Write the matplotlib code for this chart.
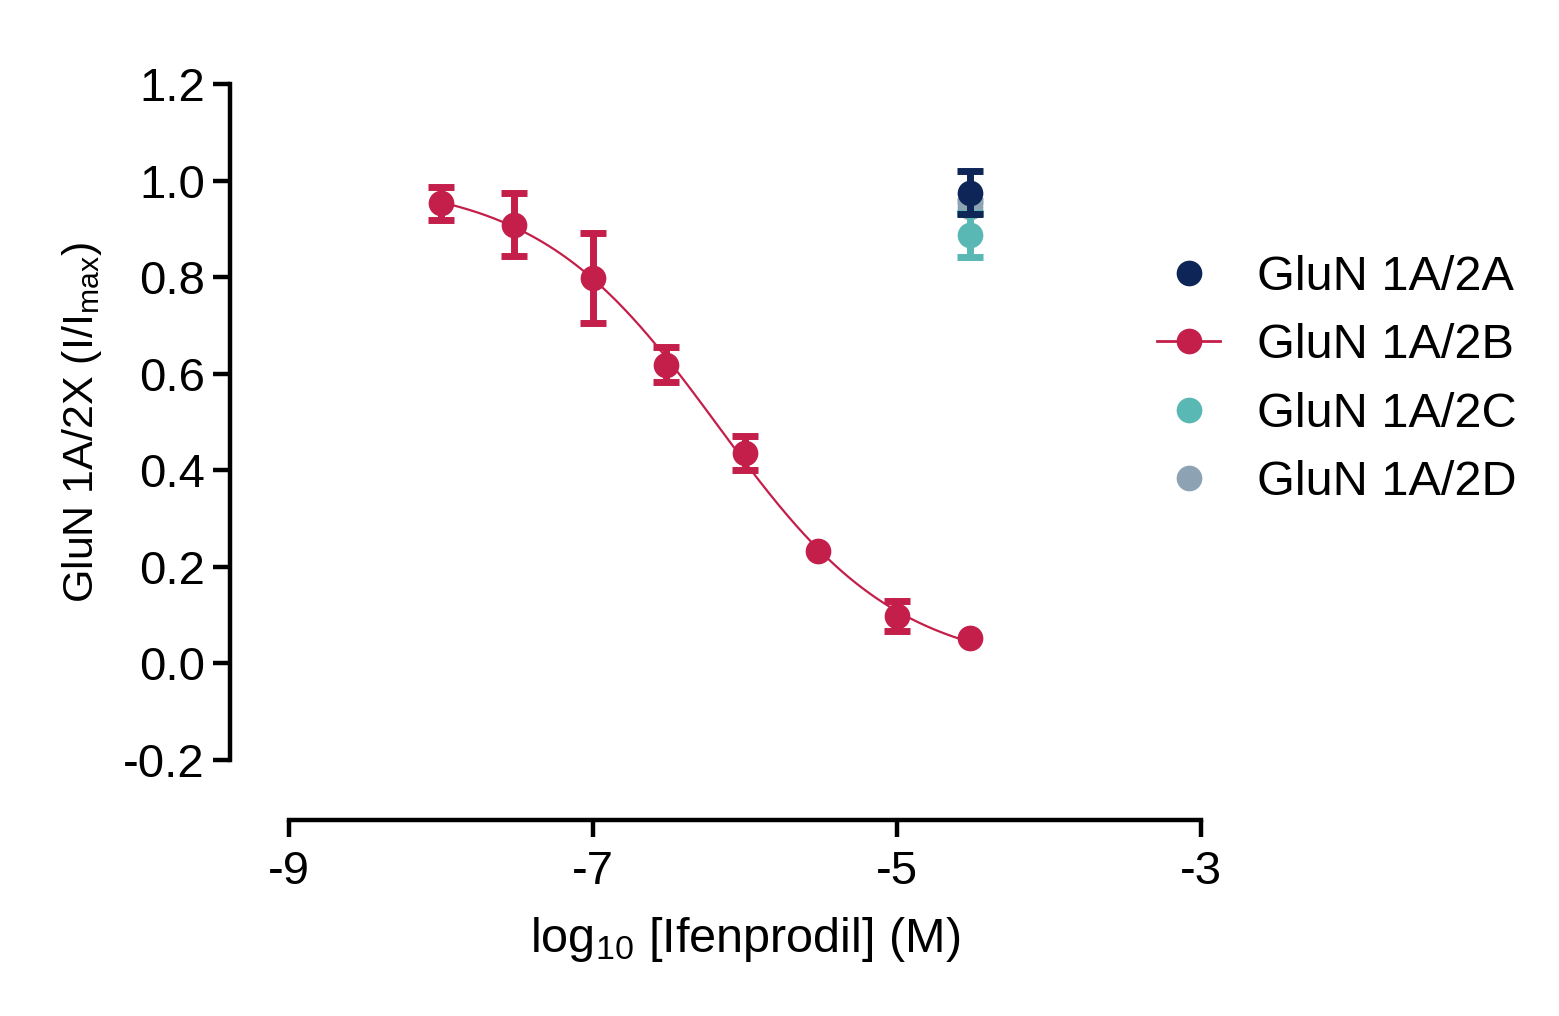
import numpy as np
import matplotlib
matplotlib.use("Agg")
import matplotlib.pyplot as plt
from matplotlib.lines import Line2D

plt.rcParams['font.family'] = ['Liberation Sans', 'DejaVu Sans']
plt.rcParams['mathtext.fontset'] = 'custom'
plt.rcParams['mathtext.rm'] = 'Liberation Sans'
plt.rcParams['mathtext.it'] = 'Liberation Sans:italic'
plt.rcParams['mathtext.bf'] = 'Liberation Sans:bold'
plt.rcParams['mathtext.default'] = 'regular'

# ---- data ----
conc_2B = [1e-8, 3e-8, 1e-7, 3e-7, 1e-6, 3e-6, 1e-5, 3e-5]
mean_2B = [0.953, 0.909, 0.799, 0.619, 0.436, 0.233, 0.098, 0.052]
sem_2B = [0.034, 0.066, 0.093, 0.036, 0.036, 0.0, 0.031, 0.0]

conc_single = 3e-5
mean_2A, sem_2A = 0.975, 0.044
mean_2C, sem_2C = 0.887, 0.046
mean_2D, sem_2D = 0.945, 0.012

labels = ["GluN 1A/2A", "GluN 1A/2B", "GluN 1A/2C", "GluN 1A/2D"]
colors = {"2A": "#0E2557", "2B": "#C41E4A", "2C": "#5AB8B4", "2D": "#8DA3B3"}

x_ticks = [-9, -7, -5, -3]
y_ticks = [-0.2, 0.0, 0.2, 0.4, 0.6, 0.8, 1.0, 1.2]

# ---- fit (four-parameter logistic, least squares on means) ----
logx = np.log10(conc_2B)
y = np.array(mean_2B)
best = None
for lic in np.linspace(-7.5, -5.0, 251):
    for h in np.linspace(0.3, 2.0, 171):
        g = 1.0 / (1.0 + 10 ** ((logx - lic) * h))
        A = np.vstack([np.ones_like(g), g]).T
        coef, *_ = np.linalg.lstsq(A, y, rcond=None)
        r = np.sum((A @ coef - y) ** 2)
        if best is None or r < best[0]:
            best = (r, lic, h, coef)
_, lic, h, (bottom, span) = best
xf = np.linspace(logx.min(), logx.max(), 400)
yf = bottom + span / (1.0 + 10 ** ((xf - lic) * h))

# ---- figure ----
W, H = 1559, 1016
fig = plt.figure(figsize=(W / 100, H / 100), dpi=100)
ax = fig.add_axes([289 / W, 1 - 760 / H, (1201 - 289) / W, (760 - 84) / H])
ax.set_xlim(-9, -3)
ax.set_ylim(-0.2, 1.2)

ms = 18.5

def eb(xv, yv, err, c, z):
    xv, yv, err = np.atleast_1d(xv), np.atleast_1d(yv), np.atleast_1d(err)
    has = err > 0
    if has.any():
        ax.errorbar(xv[has], yv[has], yerr=err[has], color=c, ecolor=c,
                    elinewidth=5, capsize=9.5, capthick=5, linestyle='none',
                    marker='none', zorder=z)
    ax.plot(xv, yv, linestyle='none', marker='o', markersize=ms,
            markerfacecolor=c, markeredgecolor=c, markeredgewidth=0, zorder=z)

lx = np.log10(conc_single)
eb(lx, mean_2D, sem_2D, colors["2D"], 2)
eb(lx, mean_2C, sem_2C, colors["2C"], 3)
ax.plot(xf, yf, color=colors["2B"], lw=1.6, zorder=4)
eb(logx, mean_2B, sem_2B, colors["2B"], 5)
eb(lx, mean_2A, sem_2A, colors["2A"], 6)

for s in ['top', 'right']:
    ax.spines[s].set_visible(False)
ax.spines['left'].set_position(('outward', 42.5))
ax.spines['bottom'].set_position(('outward', 43))
for s in ['left', 'bottom']:
    ax.spines[s].set_linewidth(3.2)
ax.set_xticks(x_ticks)
ax.set_yticks(y_ticks)
ax.set_xticklabels([str(v) for v in x_ticks])
ax.set_yticklabels([f"{v:.1f}" for v in y_ticks])
ax.tick_params(axis='both', width=3.2, length=12, labelsize=34)
ax.tick_params(axis='x', pad=10)
ax.tick_params(axis='y', pad=6)

ax.set_xlabel(r"log$_{10}$ [Ifenprodil] (M)", fontsize=35, labelpad=15)
ax.set_ylabel(r"GluN 1A/2X (I/I$_{max}$)", fontsize=31, labelpad=14)

handles = [
    Line2D([], [], color=colors["2A"], marker='o', ms=ms, mew=0, ls='none'),
    Line2D([], [], color=colors["2B"], marker='o', ms=ms, mew=0, ls='-', lw=2),
    Line2D([], [], color=colors["2C"], marker='o', ms=ms, mew=0, ls='none'),
    Line2D([], [], color=colors["2D"], marker='o', ms=ms, mew=0, ls='none'),
]
fig.legend(handles, labels, loc='center left', bbox_to_anchor=(1157 / W, 1 - 380 / H),
           frameon=False, fontsize=35, handlelength=1.3, handletextpad=0.75,
           labelspacing=0.48, borderpad=0, borderaxespad=0)

fig.savefig("out.png", dpi=100)
